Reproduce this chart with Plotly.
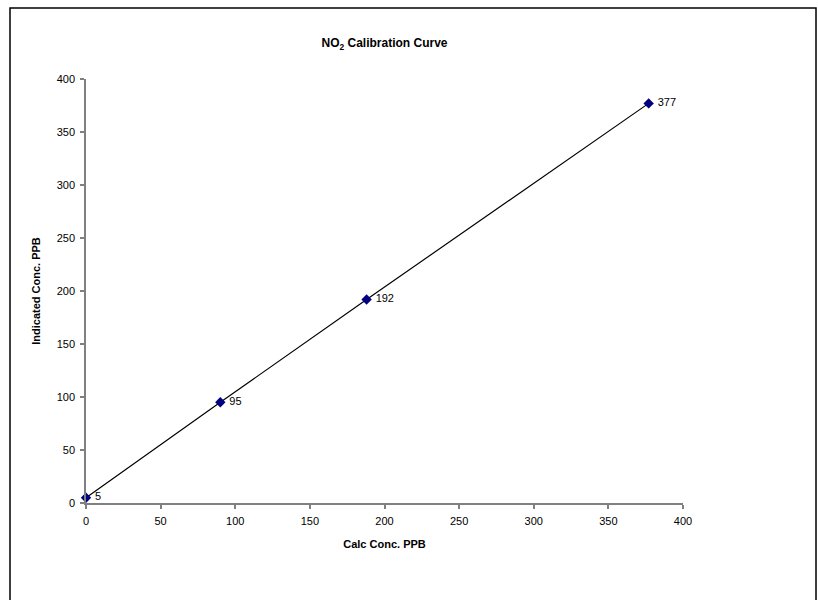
import plotly.graph_objects as go

# Calibration readings
calc_conc = [0, 90, 188, 377]
indicated_conc = [5, 95, 192, 377]
point_labels = [" " + str(v) for v in indicated_conc]

tick_vals = [0, 50, 100, 150, 200, 250, 300, 350, 400]

W, H = 818, 600
L, R, T, B = 86, 683, 79, 502.7

fig = go.Figure()
fig.add_trace(go.Scatter(
    x=calc_conc, y=indicated_conc,
    mode="lines+markers+text",
    line=dict(color="black", width=1.2),
    marker=dict(symbol="diamond", size=8, color="#000080"),
    text=point_labels,
    textposition="middle right",
    textfont=dict(family="Liberation Sans, Arial", size=11, color="black"),
    cliponaxis=False,
    showlegend=False,
))

axis_common = dict(
    showgrid=False, zeroline=False,
    showline=True, linecolor="#808080", linewidth=1.5,
    ticks="outside", ticklen=4, tickcolor="#808080", tickwidth=1.5,
    ticklabelstandoff=3,
    tickfont=dict(family="Liberation Sans, Arial", size=11, color="black"),
    tickvals=tick_vals, range=[0, 400], fixedrange=True,
)

fig.update_layout(
    width=W, height=H,
    margin=dict(l=L, r=W - R, t=T, b=H - B, pad=0),
    paper_bgcolor="white", plot_bgcolor="white",
    font=dict(family="Liberation Sans, Arial", color="black"),
    title=dict(
        text="<b>NO<sub>2</sub> Calibration Curve</b>",
        x=(L + R) / 2 / W, xanchor="center",
        y=1 - 43 / H, yanchor="middle",
        font=dict(size=12, color="black"),
    ),
    xaxis=dict(**axis_common,
               title=dict(text="<b>Calc Conc. PPB</b>", standoff=14,
                          font=dict(size=11, color="black"))),
    yaxis=dict(**axis_common,
               title=dict(text="<b>Indicated Conc. PPB</b>", standoff=14,
                          font=dict(size=11, color="black"))),
)

# chart-area border
pw, ph = R - L, B - T
fig.add_shape(
    type="rect", xref="paper", yref="paper",
    x0=(10 - L) / pw, x1=(816 - L) / pw,
    y0=(B - 610) / ph, y1=(B - 8) / ph,
    line=dict(color="black", width=1.5), layer="below",
)

fig.write_html("out.html")
